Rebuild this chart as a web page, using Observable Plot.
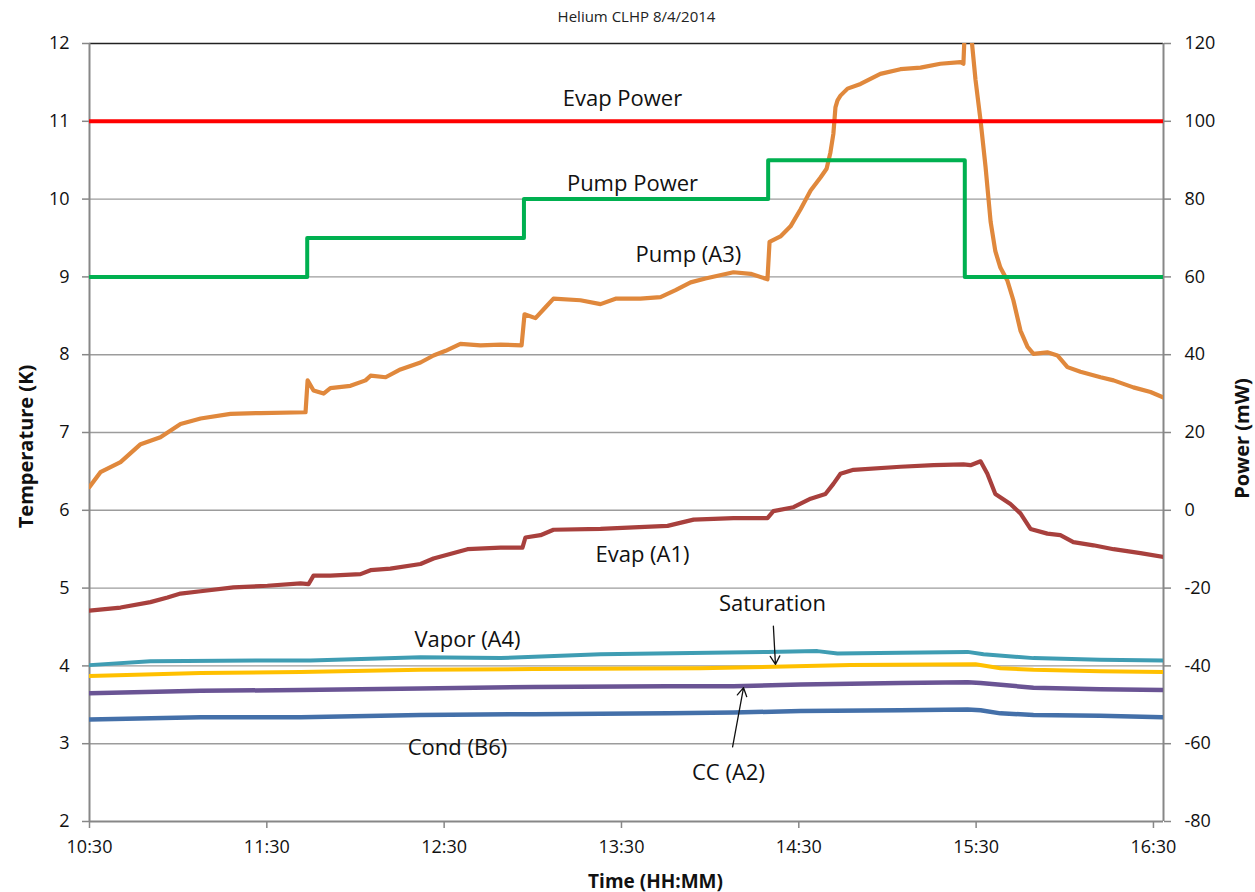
<!DOCTYPE html>
<html><head><meta charset="utf-8">
<script src="https://cdn.jsdelivr.net/npm/d3@7"></script>
<script src="https://cdn.jsdelivr.net/npm/@observablehq/plot@0.6"></script>
<style>
body{margin:0;background:#fff;font-family:"Open Sans",sans-serif;}
#title{padding-top:5px;height:22px;line-height:22px;font-size:15px;text-align:center;padding-left:18px;width:1237px;color:#222;}
</style></head><body>
<div id="title">Helium CLHP 8/4/2014</div>
<div id="chart"></div>
<script>
// ---- axis ticks ----
const timeTicks = ["10:30","11:30","12:30","13:30","14:30","15:30","16:30"];
const timeStart = "10:30";
const timeEnd = "16:33:24";
const tempTicks = [2,3,4,5,6,7,8,9,10,11,12];
const powerTicks = [-80,-60,-40,-20,0,20,40,60,80,100,120];

// ---- Pump (A3) temperature ----
const pumpA3Time = ["10:30","10:33:42","10:40:30","10:47:18","10:54","11:00:48","11:07:36","11:17:42","11:27:54","11:43:06","11:43:48","11:45:48","11:49:12","11:51:30","11:58:18","12:03:24","12:05:06","12:10:12","12:15:12","12:22","12:26:24","12:30:30","12:35:30","12:42:18","12:49:06","12:56:12","12:57:12","13:00:54","13:04:18","13:07","13:16:06","13:22:54","13:28","13:36:24","13:43:12","13:48:18","13:53:24","13:58:24","14:07:54","14:13:42","14:19:24","14:20:06","14:23:48","14:27:12","14:30:36","14:34","14:37:24","14:39:24","14:40:42","14:41:42","14:42:24","14:43:06","14:44:06","14:46:30","14:50:54","14:57:36","15:04:24","15:11:12","15:17:54","15:24:42","15:25:42","15:26:24","15:28:06","15:29:48","15:31:30","15:33:12","15:34:54","15:36:30","15:38:12","15:40:36","15:42:36","15:45","15:47:24","15:49:24","15:54:06","15:57:30","16:00:54","16:05:18","16:12:06","16:16:30","16:23:12","16:29","16:33:24"];
const pumpA3Temp = [6.30,6.49,6.62,6.85,6.94,7.11,7.18,7.24,7.25,7.26,7.67,7.54,7.50,7.57,7.60,7.67,7.73,7.71,7.81,7.90,7.99,8.05,8.14,8.12,8.13,8.12,8.52,8.47,8.61,8.72,8.70,8.65,8.72,8.72,8.74,8.83,8.93,8.98,9.06,9.04,8.97,9.45,9.52,9.65,9.87,10.11,10.28,10.39,10.60,10.84,11.18,11.27,11.33,11.42,11.48,11.61,11.67,11.69,11.74,11.76,11.74,12.4,12.2,11.53,11.01,10.41,9.71,9.33,9.12,8.95,8.70,8.31,8.10,8.01,8.03,7.99,7.84,7.78,7.71,7.67,7.58,7.52,7.45];

// ---- Evap (A1) temperature ----
const evapA1Time = ["10:30","10:40:30","10:50:36","10:56:24","11:00:48","11:07:36","11:18:42","11:30:12","11:41:24","11:44:06","11:45:48","11:51:30","12:01:42","12:05:06","12:11:48","12:22","12:26:24","12:37:54","12:49:06","12:56:30","12:57:30","13:02:36","13:07","13:22:54","13:34:06","13:45:36","13:54:24","14:07:54","14:19:24","14:21:24","14:28:12","14:34","14:39","14:41:42","14:44:06","14:48:30","15:04:24","15:15:36","15:25:42","15:28:06","15:31:30","15:33:48","15:36:30","15:41:36","15:45","15:48:24","15:54:06","15:58:30","16:02:54","16:09:42","16:16:30","16:25:36","16:33:24"];
const evapA1Temp = [4.71,4.75,4.82,4.88,4.93,4.96,5.01,5.03,5.06,5.05,5.16,5.16,5.18,5.23,5.25,5.31,5.38,5.50,5.52,5.52,5.65,5.68,5.75,5.76,5.78,5.80,5.88,5.90,5.90,5.99,6.04,6.15,6.21,6.34,6.47,6.52,6.56,6.58,6.59,6.58,6.63,6.47,6.21,6.08,5.96,5.76,5.70,5.68,5.59,5.55,5.50,5.45,5.40];

// ---- Vapor (A4) temperature ----
const vaporA4Time = ["10:30","10:50:36","11:30:12","11:44:48","12:22","12:49:06","13:22:54","14:19:24","14:36:18","14:43:06","15:04:24","15:27:06","15:32:30","15:49:24","16:12","16:33:24"];
const vaporA4Temp = [4.01,4.06,4.07,4.07,4.11,4.10,4.15,4.18,4.19,4.16,4.17,4.18,4.15,4.10,4.08,4.07];

// ---- Saturation temperature ----
const saturationTime = ["10:30","11:07:36","11:41:24","12:22","13:00:12","13:56:42","14:21:24","14:47:30","15:29:48","15:38:12","15:49:24","16:12","16:33:24"];
const saturationTemp = [3.87,3.91,3.92,3.95,3.96,3.97,3.99,4.01,4.02,3.97,3.95,3.93,3.92];

// ---- CC (A2) temperature ----
const ccA2Time = ["10:30","11:07:36","11:41:24","12:22","13:00:12","13:45:36","14:07:54","14:30:36","15:04:24","15:27:06","15:31:30","15:49:24","16:12","16:33:24"];
const ccA2Temp = [3.65,3.68,3.69,3.71,3.73,3.74,3.74,3.76,3.78,3.79,3.78,3.72,3.70,3.69];

// ---- Cond (B6) temperature ----
const condB6Time = ["10:30","11:07:36","11:41:24","12:22","13:00:12","13:45:36","14:07:54","14:30:36","15:04:24","15:27:06","15:31:30","15:38:12","15:49:24","16:12","16:33:24"];
const condB6Temp = [3.31,3.34,3.34,3.37,3.38,3.39,3.40,3.42,3.43,3.44,3.43,3.39,3.37,3.36,3.34];

// ---- Power (mW) ----
const evapPowerTime = ["10:30","16:33:24"];
const evapPowerValue = [100,100];
const pumpPowerTime = ["10:30","11:43:40","12:57","14:19:38","15:26:10","16:33:24"];
const pumpPowerValue = [60,70,80,90,60,60];

// ---- annotations ----
const labelText = ["Evap Power","Pump Power","Pump (A3)","Evap (A1)","Saturation","Vapor (A4)","Cond (B6)","CC (A2)"];
const labelTime = ["13:30:20","13:33:43","13:52:40","13:37:07","14:21:06","12:37:54","12:34:30","14:06:12"];
const labelTemp = [11.29,10.20,9.28,5.42,4.79,4.33,2.95,2.63];
const arrowLabel = ["Saturation","CC (A2)"];
const arrowFromTime = ["14:21:24","14:07:36"];
const arrowFromTemp = [4.51,2.96];
const arrowToTime = ["14:22:06","14:11:18"];
const arrowToTemp = [4.02,3.72];

// ---- helpers ----
const hrs = s => { const [h,m,sec=0] = s.split(":").map(Number); return h + m/60 + sec/3600; };
const fmt = h => { const tot = Math.round(h*60); return Math.floor(tot/60) + ":" + String(tot%60).padStart(2,"0"); };
const tMin = tempTicks[0], tMax = tempTicks[tempTicks.length-1];
const pMin = powerTicks[0], pMax = powerTicks[powerTicks.length-1];
const p2t = p => tMin + (p - pMin) * (tMax - tMin) / (pMax - pMin);
const t2p = t => pMin + (t - tMin) * (pMax - pMin) / (tMax - tMin);
const series = (times, vals, f = v => v) => times.map((s,i) => ({x: hrs(s), y: f(vals[i])}));

const colors = {
  pumpA3: "#E0883C", evapA1: "#A8403D", vapor: "#3F9DB3", sat: "#FFC000",
  cc: "#6A5494", cond: "#4470A9", evapP: "#FF0000", pumpP: "#00B050"
};
const axisGray = "#878787";

const chart = Plot.plot({
  width: 1255,
  height: 865,
  marginTop: 16,
  marginBottom: 71,
  marginLeft: 89,
  marginRight: 92,
  style: {fontFamily: "'Open Sans', sans-serif", fontSize: "18px", color: "#111", background: "#fff", overflow: "visible"},
  x: {domain: [hrs(timeStart), hrs(timeEnd)]},
  y: {domain: [tMin, tMax]},
  marks: [
    Plot.ruleY(tempTicks.slice(1, -1), {stroke: "#9c9c9c", strokeWidth: 1.4}),
    Plot.ruleY([tMax], {stroke: "#222", strokeWidth: 1.6}),
    Plot.ruleY([tMin], {stroke: axisGray, strokeWidth: 2}),
    Plot.ruleX([hrs(timeStart), hrs(timeEnd)], {stroke: axisGray, strokeWidth: 2}),
    Plot.axisY({anchor: "left", ticks: tempTicks, tickSize: 7, tickPadding: 13, fontSize: 18, label: null, stroke: axisGray, strokeWidth: 1.5, tickFormat: d => String(d)}),
    Plot.axisY({anchor: "right", ticks: powerTicks.map(p2t), tickSize: 7, tickPadding: 14, fontSize: 18, label: null, stroke: axisGray, strokeWidth: 1.5, tickFormat: t => String(Math.round(t2p(t)))}),
    Plot.axisX({ticks: timeTicks.map(hrs), tickSize: 7, tickPadding: 12, fontSize: 18, label: null, stroke: axisGray, strokeWidth: 1.5, tickFormat: fmt}),
    Plot.line(series(condB6Time, condB6Temp), {x: "x", y: "y", stroke: colors.cond, strokeWidth: 4.5, clip: true}),
    Plot.line(series(ccA2Time, ccA2Temp), {x: "x", y: "y", stroke: colors.cc, strokeWidth: 4.5, clip: true}),
    Plot.line(series(saturationTime, saturationTemp), {x: "x", y: "y", stroke: colors.sat, strokeWidth: 4, clip: true}),
    Plot.line(series(vaporA4Time, vaporA4Temp), {x: "x", y: "y", stroke: colors.vapor, strokeWidth: 4, clip: true}),
    Plot.line(series(evapA1Time, evapA1Temp), {x: "x", y: "y", stroke: colors.evapA1, strokeWidth: 4.2, clip: true}),
    Plot.line(series(pumpA3Time, pumpA3Temp), {x: "x", y: "y", stroke: colors.pumpA3, strokeWidth: 4.2, clip: true}),
    Plot.line(series(pumpPowerTime, pumpPowerValue, p2t), {x: "x", y: "y", stroke: colors.pumpP, strokeWidth: 4, curve: "step-after", clip: true}),
    Plot.line(series(evapPowerTime, evapPowerValue, p2t), {x: "x", y: "y", stroke: colors.evapP, strokeWidth: 4, clip: true}),
    Plot.text(labelText, {x: labelTime.map(hrs), y: labelTemp, text: d => d, fontSize: 22, fill: "#111"}),
    Plot.arrow(arrowLabel, {x1: arrowFromTime.map(hrs), y1: arrowFromTemp, x2: arrowToTime.map(hrs), y2: arrowToTemp, stroke: "#111", strokeWidth: 1.3, headLength: 11}),
    Plot.text(["Time (HH:MM)"], {frameAnchor: "bottom", textAnchor: "middle", lineAnchor: "middle", dx: 29, dy: 60, fontSize: 19, fontWeight: "bold", fill: "#111"}),
    Plot.text(["Temperature (K)"], {frameAnchor: "left", textAnchor: "middle", lineAnchor: "middle", rotate: -90, dx: -63, dy: 14, fontSize: 20, fontWeight: "bold", fill: "#111"}),
    Plot.text(["Power (mW)"], {frameAnchor: "right", textAnchor: "middle", lineAnchor: "middle", rotate: -90, dx: 79, dy: 6, fontSize: 20, fontWeight: "bold", fill: "#111"})
  ]
});
document.getElementById("chart").appendChild(chart);
</script>
</body></html>
